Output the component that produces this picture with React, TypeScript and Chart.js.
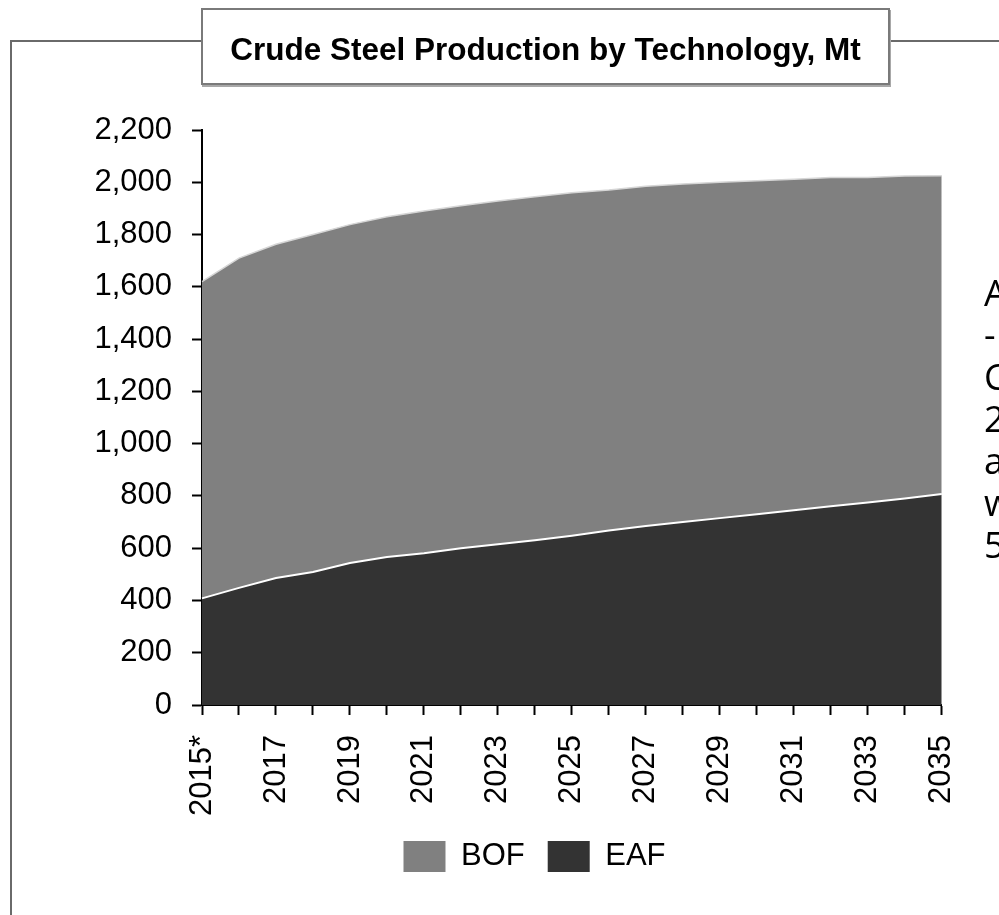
import { useEffect, useRef } from 'react';
import Chart from 'chart.js/auto';

const years = ['2015*', '2016', '2017', '2018', '2019', '2020', '2021', '2022', '2023', '2024', '2025', '2026', '2027', '2028', '2029', '2030', '2031', '2032', '2033', '2034', '2035'];
const eafValues = [408, 448, 486, 509, 543, 566, 581, 600, 615, 630, 648, 668, 685, 700, 715, 730, 745, 760, 775, 790, 807];
const bofValues = [1212, 1262, 1277, 1291, 1295, 1302, 1309, 1310, 1313, 1315, 1312, 1302, 1300, 1293, 1285, 1276, 1267, 1258, 1243, 1234, 1218];
const yMax = 2200;
const yStep = 200;
const titleText = 'Crude Steel Production by Technology, Mt';
const sideLines = ['A', '-', 'C', '2', 'a', 'w', '5'];

const FONT = "'Liberation Sans', Arial, sans-serif";

export default function App() {
  const ref = useRef<HTMLCanvasElement>(null);
  useEffect(() => {
    const legendShift = {
      id: 'legendShift',
      afterLayout(chart: any) {
        const lg = chart.legend;
        if (lg) {
          lg.left += 62;
          lg.right += 62;
        }
      },
    };
    const chart = new Chart(ref.current!, {
      type: 'line',
      data: {
        labels: years,
        datasets: [
          {
            label: 'EAF',
            data: eafValues,
            backgroundColor: '#333333',
            borderColor: '#ffffff',
            borderWidth: 2,
            fill: 'origin',
            pointRadius: 0,
            tension: 0,
          },
          {
            label: 'BOF',
            data: bofValues,
            backgroundColor: '#808080',
            borderColor: '#d6d6d6',
            borderWidth: 1.5,
            fill: '-1',
            pointRadius: 0,
            tension: 0,
          },
        ],
      },
      plugins: [legendShift],
      options: {
        animation: false,
        responsive: false,
        maintainAspectRatio: false,
        layout: { padding: { left: 0, right: 54, top: 130, bottom: 33 } },
        plugins: {
          tooltip: { enabled: false },
          legend: {
            position: 'bottom',
            reverse: true,
            labels: {
              boxWidth: 42,
              boxHeight: 31,
              padding: 23,
              color: '#000000',
              font: { family: FONT, size: 31 },
              generateLabels: (c: any) =>
                (Chart as any).defaults.plugins.legend.labels
                  .generateLabels(c)
                  .map((l: any) => ({ ...l, lineWidth: 0, strokeStyle: l.fillStyle })),
            },
          },
        },
        scales: {
          x: {
            offset: false,
            grid: {
              display: true,
              drawOnChartArea: false,
              tickLength: 10,
              tickWidth: 2,
              tickColor: '#000000',
              offset: false,
            },
            border: { color: '#000000', width: 2 },
            ticks: {
              autoSkip: false,
              maxRotation: 90,
              minRotation: 90,
              padding: 20,
              color: '#000000',
              font: { family: FONT, size: 31 },
              callback: (_v: any, i: number) => (i % 2 === 0 ? years[i] : ''),
            },
            afterFit: (s: any) => {
              s.height = 113;
            },
          },
          y: {
            stacked: true,
            min: 0,
            max: yMax,
            grid: {
              display: true,
              drawOnChartArea: false,
              tickLength: 10,
              tickWidth: 2,
              tickColor: '#000000',
            },
            border: { color: '#000000', width: 2 },
            ticks: {
              stepSize: yStep,
              padding: 20,
              color: '#000000',
              font: { family: FONT, size: 31 },
            },
            afterFit: (s: any) => {
              s.width = 202;
            },
          },
        },
      },
    } as any);
    return () => chart.destroy();
  }, []);

  return (
    <div
      style={{
        position: 'fixed',
        left: 0,
        top: 0,
        width: 999,
        height: 915,
        overflow: 'hidden',
        background: '#ffffff',
      }}
    >
      <div style={{ position: 'absolute', left: 10, top: 40, width: 2, height: 900, background: '#6a6a6a' }} />
      <div style={{ position: 'absolute', left: 10, top: 40, width: 1000, height: 2, background: '#6a6a6a' }} />
      <canvas ref={ref} width={999} height={915} style={{ position: 'absolute', left: 0, top: 0, width: 999, height: 915 }} />
      <div
        style={{
          position: 'absolute',
          left: 201,
          top: 8,
          width: 689,
          height: 77,
          boxSizing: 'border-box',
          border: '2px solid #7a7a7a',
          boxShadow: '1px 2px 0 #a8a8a8',
          background: '#ffffff',
        }}
      />
      <div
        style={{
          position: 'absolute',
          left: 201,
          top: 31,
          width: 689,
          height: 36,
          lineHeight: '36px',
          textAlign: 'center',
          fontFamily: FONT,
          fontWeight: 'bold',
          fontSize: 31.5,
          color: '#000000',
          whiteSpace: 'nowrap',
        }}
      >
        {titleText}
      </div>
      <div
        style={{
          position: 'absolute',
          left: 984,
          top: 272,
          fontFamily: "'Open Sans', sans-serif",
          fontSize: 36,
          lineHeight: '42px',
          color: '#000000',
          whiteSpace: 'pre',
        }}
      >
        {sideLines.map((t, i) => (
          <div key={i}>{t}</div>
        ))}
      </div>
    </div>
  );
}
